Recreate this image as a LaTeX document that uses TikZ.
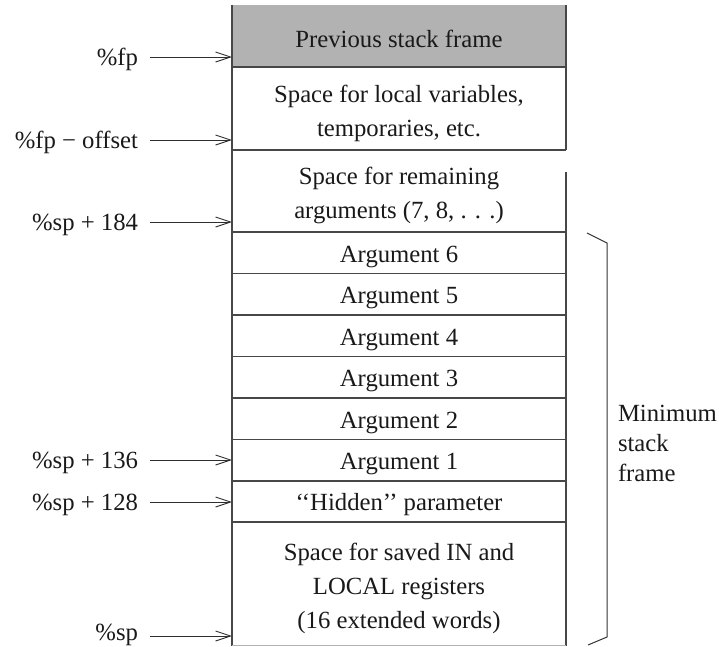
\documentclass[tikz,border=0pt]{standalone}
\usepackage{fontspec}
\setmainfont{Liberation Serif}
\usetikzlibrary{arrows.meta}
\begin{document}
\begin{tikzpicture}[x=1pt,y=-1pt,
  every node/.style={inner sep=0pt, outer sep=0pt, text=black!90,
    font=\fontsize{24.7}{30}\selectfont},
  celltext/.style={anchor=base},
  lbl/.style={anchor=base east},
  sidetext/.style={anchor=base west},
  rule/.style={draw=black!72, line width=1.1pt},
  ptr/.style={draw=black!82, line width=0.9pt,
    -{Straight Barb[length=15pt,width=10pt,line width=0.9pt]},
    shorten <=12pt},
  bracket/.style={draw=black!80, line width=1pt, line join=miter}]
\useasboundingbox (0,0) rectangle (719,646);

% shaded top slot
\fill[gray!60] (232,5) rectangle (566,67);

% frame outline
\draw[rule] (232,5) -- (232,646);
\draw[rule] (566,5) -- (566,150);
\draw[rule] (566,172) -- (566,646);
\foreach \yy in {67,150,232,273.5,315,356.5,398,439.5,481,522}
  \draw[rule] (232,\yy) -- (566,\yy);
\draw[black!30, line width=0.8pt] (232,645.6) -- (566,645.6);

% slot contents
\node[celltext] (prev) at (399,47.5) {Previous stack frame};
\node[celltext] (loca) at (399,102) {Space for local variables,};
\node[celltext] (locb) at (399,136) {temporaries, etc.};
\node[celltext] (rema) at (399,184) {Space for remaining};
\node[celltext] (remb) at (399,218) {arguments (7, 8, . . .)};
\node[celltext] (arg6) at (399,262) {Argument 6};
\node[celltext] (arg5) at (399,303.5) {Argument 5};
\node[celltext] (arg4) at (399,345) {Argument 4};
\node[celltext] (arg3) at (399,386.5) {Argument 3};
\node[celltext] (arg2) at (399,428) {Argument 2};
\node[celltext] (arg1) at (399,469.5) {Argument 1};
\node[celltext] (hidden) at (399,510.5) {‘‘Hidden’’ parameter};
\node[celltext] (sava) at (399,560) {Space for saved IN and};
\node[celltext] (savb) at (399,594) {LOCAL registers};
\node[celltext] (savc) at (399,628) {(16 extended words)};

% pointer targets on the left edge
\coordinate (pfp) at (232,57);
\coordinate (pfpoff) at (232,140);
\coordinate (psp184) at (232,222);
\coordinate (psp136) at (232,460);
\coordinate (psp128) at (232,502);
\coordinate (psp) at (232,636);

% pointer labels
\node[lbl] (lfp) at (138,65) {\%fp};
\node[lbl] (lfpoff) at (138,148) {\%fp − offset};
\node[lbl] (lsp184) at (138,230) {\%sp + 184};
\node[lbl] (lsp136) at (138,468) {\%sp + 136};
\node[lbl] (lsp128) at (138,510) {\%sp + 128};
\node[lbl] (lsp) at (138,640.5) {\%sp};

\draw[ptr] (lfp.east |- pfp) -- (pfp);
\draw[ptr] (lfpoff.east |- pfpoff) -- (pfpoff);
\draw[ptr] (lsp184.east |- psp184) -- (psp184);
\draw[ptr] (lsp136.east |- psp136) -- (psp136);
\draw[ptr] (lsp128.east |- psp128) -- (psp128);
\draw[ptr] (lsp.east |- psp) -- (psp);

% bracket around the minimum frame
\coordinate (bta) at (587,233);
\coordinate (btb) at (607,243);
\coordinate (bbb) at (607,637);
\coordinate (bba) at (588,645);
\draw[bracket] (bta) -- (btb) -- (bbb) -- (bba);

\node[sidetext] (mina) at (618,421) {Minimum};
\node[sidetext] (minb) at (618,451) {stack};
\node[sidetext] (minc) at (618,481) {frame};
\end{tikzpicture}
\end{document}
